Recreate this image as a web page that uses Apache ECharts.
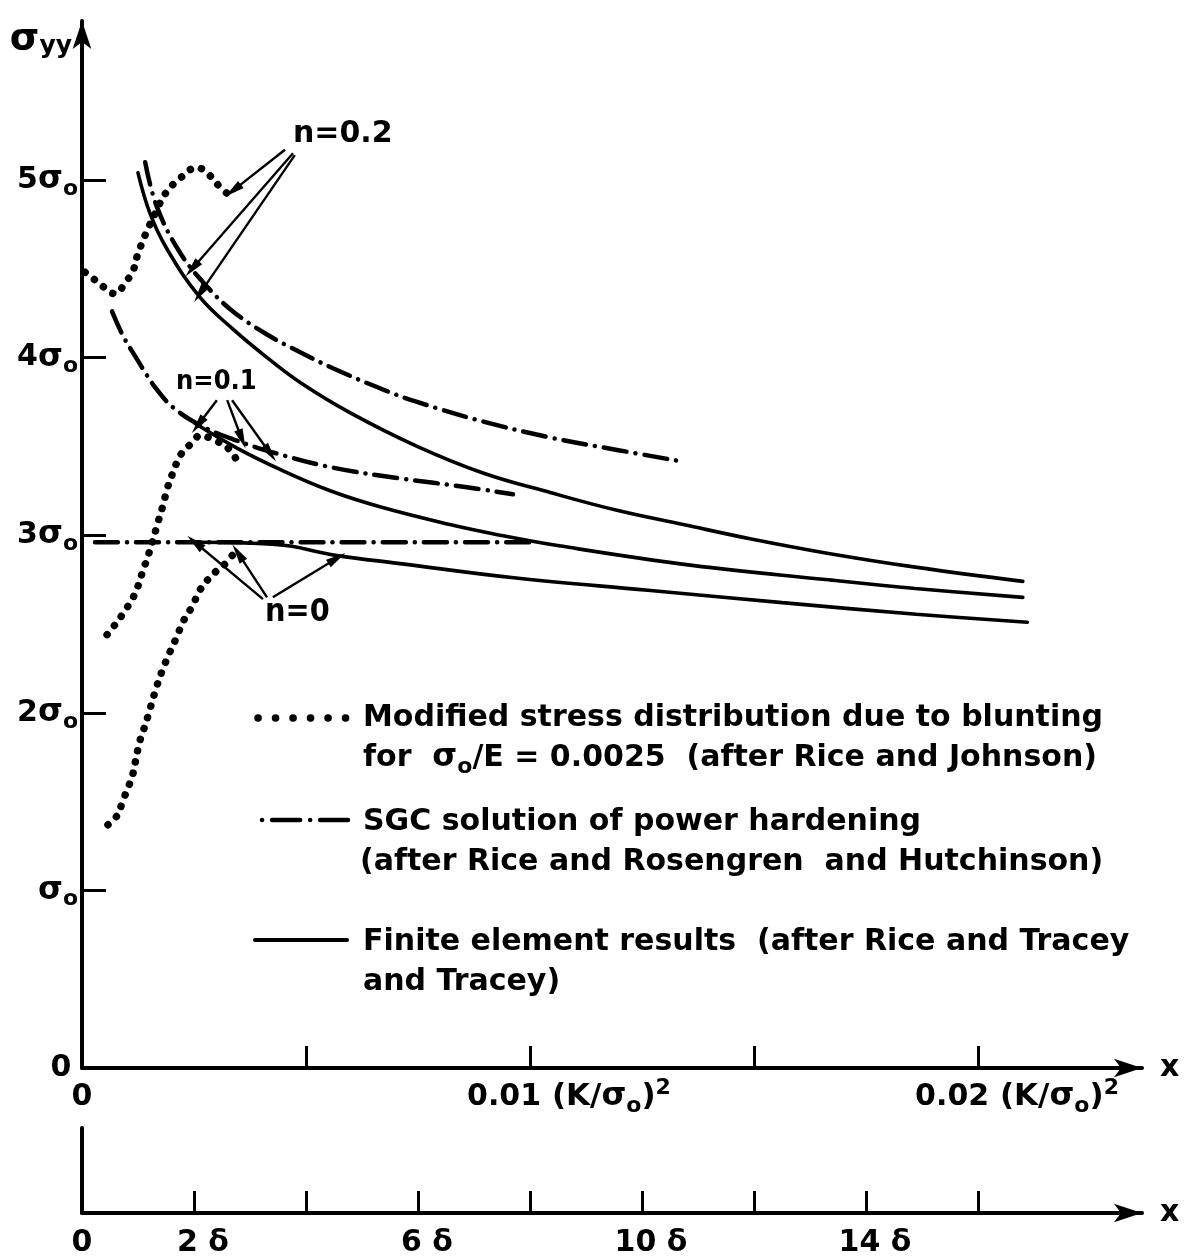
<!DOCTYPE html>
<html>
<head>
<meta charset="utf-8">
<script src="https://cdn.jsdelivr.net/npm/echarts@6/dist/echarts.min.js"></script>
<style>
  html, body { margin: 0; padding: 0; background: #fff; }
  #chart { width: 1190px; height: 1259px; }
</style>
</head>
<body>
<div id="chart"></div>
<script>
// x in 10^-3 (K/sigma0)^2, y in units of sigma0
// finite element results (solid)
var fe02X = [1.25, 1.52, 1.90, 2.63, 3.37, 4.13, 4.87, 5.98, 7.48, 8.95, 10.45, 11.94, 13.42, 14.91, 16.6, 18.6, 21.0];
var fe02Y = [5.04, 4.81, 4.61, 4.34, 4.16, 4.00, 3.86, 3.69, 3.50, 3.35, 3.24, 3.14, 3.06, 2.98, 2.90, 2.82, 2.74];
var fe01X = [2.52, 3.46, 4.42, 5.54, 6.65, 8.21, 9.33, 10.65, 13.62, 16.6, 18.6, 21.0];
var fe01Y = [3.63, 3.49, 3.37, 3.25, 3.16, 3.06, 3.00, 2.94, 2.83, 2.75, 2.70, 2.65];
var fe0X = [2.57, 3.75, 4.60, 5.20, 5.69, 7.10, 9.64, 12.63, 15.63, 18.62, 21.1];
var fe0Y = [2.96, 2.955, 2.94, 2.91, 2.885, 2.84, 2.76, 2.69, 2.62, 2.555, 2.51];

// SGC solution (dash-dot)
var sgc02X = [1.41, 1.67, 2.19, 2.79, 3.37, 4.13, 4.87, 5.60, 6.72, 7.48, 8.95, 10.45, 11.94, 13.28];
var sgc02Y = [5.10, 4.85, 4.59, 4.40, 4.26, 4.13, 4.03, 3.94, 3.82, 3.75, 3.64, 3.55, 3.48, 3.42];
var sgc01X = [0.67, 0.92, 1.23, 1.45, 1.67, 2.03, 2.63, 3.37, 4.35, 5.60, 7.10, 8.59, 9.62];
var sgc01Y = [4.26, 4.12, 3.99, 3.90, 3.82, 3.72, 3.62, 3.54, 3.46, 3.38, 3.32, 3.27, 3.23];
var sgc0X = [0.29, 5.0, 10.16];
var sgc0Y = [2.96, 2.96, 2.96];

// blunting (dotted)
var blunt02X = [0.07, 0.33, 0.74, 0.96, 1.14, 1.23, 1.41, 1.67, 1.85, 2.19, 2.57, 2.79, 3.08, 3.26];
var blunt02Y = [4.48, 4.43, 4.36, 4.42, 4.49, 4.57, 4.69, 4.83, 4.92, 5.01, 5.07, 5.04, 4.96, 4.92];
var blunt01X = [0.56, 0.78, 0.92, 1.12, 1.23, 1.36, 1.47, 1.58, 1.67, 1.81, 1.90, 2.01, 2.12, 2.25, 2.46, 2.63, 2.92, 3.30, 3.53];
var blunt01Y = [2.44, 2.51, 2.56, 2.64, 2.70, 2.80, 2.88, 2.97, 3.05, 3.17, 3.26, 3.34, 3.41, 3.47, 3.52, 3.56, 3.54, 3.48, 3.38];
var blunt0X = [0.58, 0.78, 0.92, 1.03, 1.12, 1.18, 1.29, 1.41, 1.47, 1.67, 1.81, 1.96, 2.12, 2.25, 2.46, 2.63, 2.81, 3.01, 3.24, 3.42];
var blunt0Y = [1.37, 1.42, 1.51, 1.58, 1.64, 1.71, 1.84, 1.93, 1.98, 2.15, 2.25, 2.34, 2.43, 2.51, 2.60, 2.69, 2.75, 2.80, 2.85, 2.91];

// ticks
var yTicks = [1, 2, 3, 4, 5];
var yLabels = [0, 1, 2, 3, 4, 5];
var xTicks = [5, 10, 15, 20];
var xLabels = [0, 10, 20];
var dTicks = [2, 4, 6, 8, 10, 12, 14, 16];
var dLabels = [0, 2, 6, 10, 14];

// arrows [fromX, fromY, toX, toY]
var arrows02 = [[4.53, 5.17, 3.37, 4.94], [4.71, 5.15, 2.46, 4.50], [4.75, 5.14, 2.63, 4.36]];
var arrows01 = [[3.01, 3.76, 2.59, 3.62], [3.24, 3.76, 3.57, 3.54], [3.35, 3.76, 4.20, 3.46]];
var arrows0 = [[4.04, 2.64, 2.52, 2.96], [4.13, 2.65, 3.48, 2.90], [4.26, 2.65, 5.69, 2.87]];

var X_MAX = 23.66;
var Y_MAX = 5.895;
var DELTA = 1.25;   // one delta in 10^-3 (K/sigma0)^2
var FONT = '"DejaVu Sans", sans-serif';
var CFONT = '"DejaVu Sans Condensed", "DejaVu Sans", sans-serif';

function pairs(xs, ys) {
  return xs.map(function (x, i) { return [x, ys[i]]; });
}
function arrowData(list) {
  return list.map(function (a) {
    return [{ coord: [a[0], a[1]] }, { coord: [a[2], a[3]] }];
  });
}
function tx(size, extra) {
  var o = { fontSize: size, fontFamily: FONT, fontWeight: 'bold', color: '#000', fill: '#000' };
  for (var k in extra) o[k] = extra[k];
  return o;
}

var subRich = {
  d: tx(30, { lineHeight: 40 }),
  g: tx(32, { lineHeight: 40 }),
  u: tx(31, { lineHeight: 40 }),
  s: tx(22, { lineHeight: 6, verticalAlign: 'bottom' }),
  p: tx(22, { lineHeight: 14, verticalAlign: 'top' }),
  pad: { width: 78 }
};

var dotted = { color: '#000', width: 7.5, type: [0.1, 11.5], cap: 'round' };
var dashDot = { color: '#000', width: 4.5, type: [23, 9, 0.1, 9], cap: 'round' };
var solid = { color: '#000', width: 3.6, type: 'solid', cap: 'round' };
var arrowLine = {
  silent: true, symbol: ['none', 'triangle'], symbolSize: [9, 20],
  lineStyle: { color: '#000', width: 2.4, type: 'solid' }, label: { show: false }
};

function mkSeries(name, xs, ys, style, arrows) {
  var s = {
    name: name, type: 'line', xAxisIndex: 0, yAxisIndex: 0,
    data: pairs(xs, ys), symbol: 'none', smooth: 0.4,
    lineStyle: style, silent: true
  };
  if (arrows) {
    s.markLine = Object.assign({ data: arrowData(arrows) }, arrowLine);
  }
  return s;
}

var chart = echarts.init(document.getElementById('chart'));
var option = {
  animation: false,
  backgroundColor: '#fff',
  grid: [
    { left: 82, right: 48, top: 21, bottom: 191 },
    { left: 82, right: 48, top: 1128, bottom: 46 }
  ],
  xAxis: [
    {
      gridIndex: 0, type: 'value', min: 0, max: X_MAX,
      name: 'x', nameLocation: 'end', nameGap: 18,
      nameTextStyle: tx(30, { verticalAlign: 'middle' }),
      axisLine: { show: true, symbol: ['none', 'arrow'], symbolSize: [14, 28], lineStyle: { color: '#000', width: 4 } },
      axisTick: { show: true, inside: true, length: 22, customValues: xTicks, lineStyle: { color: '#000', width: 3 } },
      axisLabel: {
        customValues: xLabels, margin: 9, rich: subRich,
        formatter: function (v) {
          if (v === 0) return '{d|0}';
          return '{pad|}{d|' + (v / 1000).toFixed(2) + '}{u| (K/}{g|σ}{s|o}{u|)}{p|2}';
        }
      },
      splitLine: { show: false }
    },
    {
      gridIndex: 1, type: 'value', min: 0, max: X_MAX / DELTA,
      name: 'x', nameLocation: 'end', nameGap: 18,
      nameTextStyle: tx(30, { verticalAlign: 'middle' }),
      axisLine: { show: true, symbol: ['none', 'arrow'], symbolSize: [14, 28], lineStyle: { color: '#000', width: 4 } },
      axisTick: { show: true, inside: true, length: 22, customValues: dTicks, lineStyle: { color: '#000', width: 3 } },
      axisLabel: {
        customValues: dLabels, margin: 12,
        rich: { d: tx(30, { lineHeight: 36 }), pad: { width: 18 } },
        formatter: function (v) { return v === 0 ? '{d|0}' : '{pad|}{d|' + v + ' δ}'; }
      },
      splitLine: { show: false }
    }
  ],
  yAxis: [
    {
      gridIndex: 0, type: 'value', min: 0, max: Y_MAX,
      name: '{g|σ}{s|yy}', nameLocation: 'end', nameGap: -18,
      nameTextStyle: {
        align: 'right', verticalAlign: 'middle', padding: [0, 10, 0, 0],
        rich: {
          g: tx(38, { lineHeight: 40 }),
          s: tx(25, { lineHeight: 10, verticalAlign: 'bottom' })
        }
      },
      axisLine: { show: true, symbol: ['none', 'arrow'], symbolSize: [14, 28], lineStyle: { color: '#000', width: 4 } },
      axisTick: { show: true, inside: true, length: 24, customValues: yTicks, lineStyle: { color: '#000', width: 3 } },
      axisLabel: {
        customValues: yLabels, margin: 4, rich: subRich,
        formatter: function (v) {
          if (v === 0) return '{d|0}  ';
          if (v === 1) return '{g|σ}{s|o}';
          return '{d|' + v + '}{g|σ}{s|o}';
        }
      },
      splitLine: { show: false }
    },
    {
      gridIndex: 1, type: 'value', min: 0, max: 1,
      axisLine: { show: true, lineStyle: { color: '#000', width: 4 } },
      axisTick: { show: false }, axisLabel: { show: false }, splitLine: { show: false }
    }
  ],
  series: [
    mkSeries('blunting n=0.2', blunt02X, blunt02Y, dotted),
    mkSeries('blunting n=0.1', blunt01X, blunt01Y, dotted),
    mkSeries('blunting n=0', blunt0X, blunt0Y, dotted),
    mkSeries('SGC n=0.2', sgc02X, sgc02Y, dashDot),
    mkSeries('SGC n=0.1', sgc01X, sgc01Y, dashDot),
    mkSeries('SGC n=0', sgc0X, sgc0Y, dashDot),
    mkSeries('FE n=0.2', fe02X, fe02Y, solid, arrows02),
    mkSeries('FE n=0.1', fe01X, fe01Y, solid, arrows01),
    mkSeries('FE n=0', fe0X, fe0Y, solid, arrows0)
  ],
  graphic: [
    // curve labels
    { type: 'text', x: 293, y: 134, style: tx(30, { text: 'n=0.2', verticalAlign: 'middle' }) },
    { type: 'text', x: 176, y: 382, style: tx(27, { text: 'n=0.1', fontFamily: CFONT, verticalAlign: 'middle' }) },
    { type: 'text', x: 265, y: 613, style: tx(32, { text: 'n=0', fontFamily: CFONT, verticalAlign: 'middle' }) },
    // legend samples
    { type: 'line', shape: { x1: 258, y1: 718, x2: 350, y2: 718 }, style: { stroke: '#000', lineWidth: 7.5, lineDash: [0.1, 17.4], lineCap: 'round' } },
    { type: 'line', shape: { x1: 262, y1: 820, x2: 348, y2: 820 }, style: { stroke: '#000', lineWidth: 4.5, lineDash: [0.1, 10, 28, 10], lineCap: 'round' } },
    { type: 'line', shape: { x1: 255, y1: 940, x2: 347, y2: 940 }, style: { stroke: '#000', lineWidth: 4, lineCap: 'round' } },
    // legend texts
    { type: 'text', x: 363, y: 718, style: tx(30, { text: 'Modified stress distribution due to blunting', verticalAlign: 'middle' }) },
    { type: 'text', x: 363, y: 758, style: tx(30, {
      text: 'for  {g|σ}{s|o}/E = 0.0025  (after Rice and Johnson)', verticalAlign: 'middle', lineHeight: 40,
      rich: { g: tx(32, { lineHeight: 40 }), s: tx(22, { lineHeight: 6, verticalAlign: 'bottom' }) } }) },
    { type: 'text', x: 363, y: 822, style: tx(30, { text: 'SGC solution of power hardening', verticalAlign: 'middle' }) },
    { type: 'text', x: 360, y: 862, style: tx(30, { text: '(after Rice and Rosengren  and Hutchinson)', verticalAlign: 'middle' }) },
    { type: 'text', x: 363, y: 942, style: tx(30, { text: 'Finite element results  (after Rice and Tracey', verticalAlign: 'middle' }) },
    { type: 'text', x: 363, y: 982, style: tx(30, { text: 'and Tracey)', verticalAlign: 'middle' }) }
  ]
};
chart.setOption(option);
</script>
</body>
</html>
